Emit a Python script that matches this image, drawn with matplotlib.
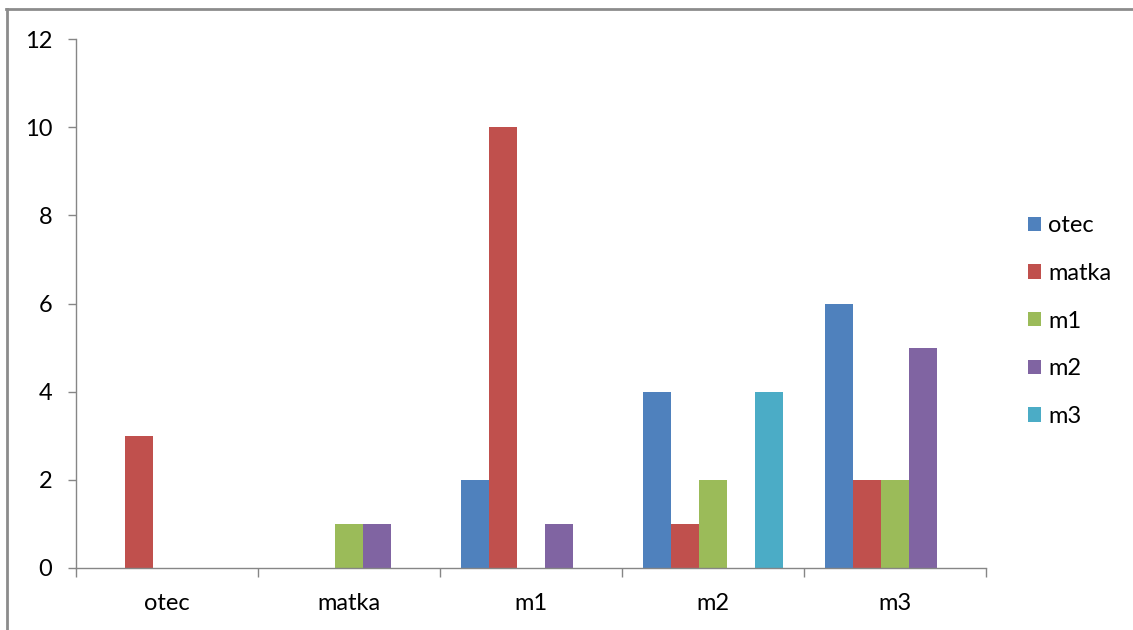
import matplotlib
matplotlib.use("Agg")
import matplotlib.pyplot as plt
import numpy as np
from matplotlib.lines import Line2D
from matplotlib.patches import Patch

categories = ["otec", "matka", "m1", "m2", "m3"]
series_names = ["otec", "matka", "m1", "m2", "m3"]
otec = [0, 0, 2, 4, 6]
matka = [3, 0, 10, 1, 2]
m1 = [0, 1, 0, 2, 2]
m2 = [0, 1, 1, 0, 5]
m3 = [0, 0, 0, 4, 0]
y_ticks = [0, 2, 4, 6, 8, 10, 12]

colors = ["#4F81BD", "#C0504D", "#9BBB59", "#8064A2", "#4BACC6"]
axis_gray = "#868686"
FS = 17

plt.rcParams["font.family"] = ["Lato", "DejaVu Sans"]

fig = plt.figure(figsize=(11.33, 6.30), dpi=100)
ax = fig.add_axes([76 / 1133, 1 - 568 / 630, (986 - 76) / 1133, (568 - 39) / 630])

series = [otec, matka, m1, m2, m3]
n = len(series)
bar_w = 1 / (n + 1.5)
x = np.arange(len(categories))
for i, (vals, col) in enumerate(zip(series, colors)):
    offs = (i - (n - 1) / 2) * bar_w
    ax.bar(x + offs, vals, width=bar_w, color=col, edgecolor="none", zorder=2)

ax.set_xlim(-0.5, len(categories) - 0.5)
ax.set_ylim(0, 12)
ax.set_yticks(y_ticks)
ax.set_yticklabels([str(v) for v in y_ticks])

# category labels centred, tick marks on the boundaries
ax.set_xticks(np.arange(-0.5, len(categories)), minor=False)
ax.set_xticklabels([])
ax.set_xticks(x, minor=True)
ax.set_xticklabels(categories, minor=True)
ax.tick_params(axis="x", which="major", direction="out", length=6.5, width=1, color=axis_gray)
ax.tick_params(axis="x", which="minor", length=0, pad=18, labelsize=FS, labelcolor="#000000")
ax.tick_params(axis="y", direction="out", length=6, width=1, color=axis_gray, pad=11,
               labelsize=FS, labelcolor="#000000")

for side in ("top", "right"):
    ax.spines[side].set_visible(False)
for side in ("left", "bottom"):
    ax.spines[side].set_color(axis_gray)
    ax.spines[side].set_linewidth(1)

handles = [Patch(facecolor=c, edgecolor="none") for c in colors]
fig.legend(handles, series_names, loc="center left", bbox_to_anchor=(1028 / 1133, 1 - 321 / 630),
           frameon=False, fontsize=FS, handlelength=0.55, handleheight=0.55,
           handletextpad=0.3, labelspacing=1.13, borderpad=0.0, borderaxespad=0.0)

# chart area border
fig.add_artist(Line2D([6 / 1133, 1.0], [1 - 9 / 630, 1 - 9 / 630], color="#8c8c8c", lw=2,
                      transform=fig.transFigure))
fig.add_artist(Line2D([6.5 / 1133, 6.5 / 1133], [0.0, 1 - 9 / 630], color="#8c8c8c", lw=2,
                      transform=fig.transFigure))

fig.savefig("out.png", dpi=100)
